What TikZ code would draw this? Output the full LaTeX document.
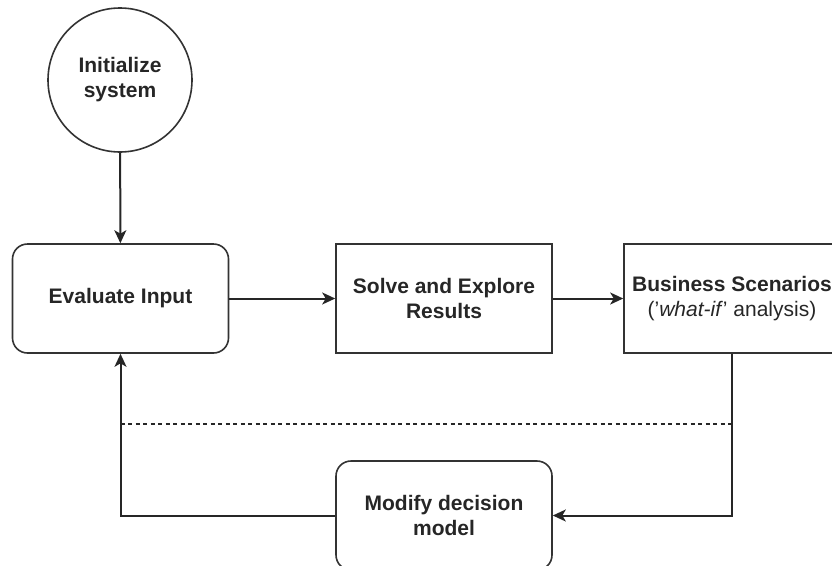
\documentclass[tikz,border=0pt]{standalone}
\usepackage{fontspec}
\setmainfont{Liberation Sans}
\usetikzlibrary{arrows.meta}
\begin{document}
\begin{tikzpicture}[x=1pt,y=-1pt,
  every node/.style={font=\fontsize{21}{25}\selectfont\bfseries, text=black!85, align=center},
  shapebox/.style={draw=black!80, line width=1.6pt, minimum width=216pt, minimum height=109pt, inner sep=0pt},
  roundbox/.style={shapebox, rounded corners=15pt},
  linkline/.style={draw=black!85, line width=2pt},
  linkarrow/.style={linkline, -{Stealth[length=13pt,width=12pt,inset=3.5pt]}}
]
\useasboundingbox (0,0) rectangle (832,565);
\begin{scope}
\clip (0,0) rectangle (832,565);
\node[draw=black!80, line width=1.6pt, circle, minimum size=144pt, inner sep=0pt] (init) at (120,80) {Initialize\\system};
\node[roundbox] (eval) at (120.5,298.5) {Evaluate Input};
\node[shapebox] (solve) at (444,298.5) {Solve and Explore\\Results};
\node[shapebox] (biz) at (732,298.5) {Business Scenarios\\{\mdseries('\textit{what-if}' analysis)}};
\node[roundbox] (mod) at (444,515.5) {Modify decision\\model};
\coordinate (bc) at (biz.south |- mod.east);
\coordinate (ec) at (eval.south |- mod.west);
\coordinate (dl) at (eval.south |- 0,424);
\coordinate (dr) at (biz.south |- 0,424);
\draw[linkarrow, line width=2pt] (init) -- (eval);
\draw[linkarrow, line width=2pt] (eval) -- (solve);
\draw[linkarrow, line width=2pt] (solve) -- (biz);
\draw[linkarrow, line width=2pt] (biz.south) -- (bc) -- (mod.east);
\draw[linkarrow, line width=2pt] (mod.west) -- (ec) -- (eval.south);
\draw[linkline, line width=1.6pt, dash pattern=on 4pt off 3.5pt] (dl) -- (dr);
\end{scope}
\end{tikzpicture}
\end{document}
